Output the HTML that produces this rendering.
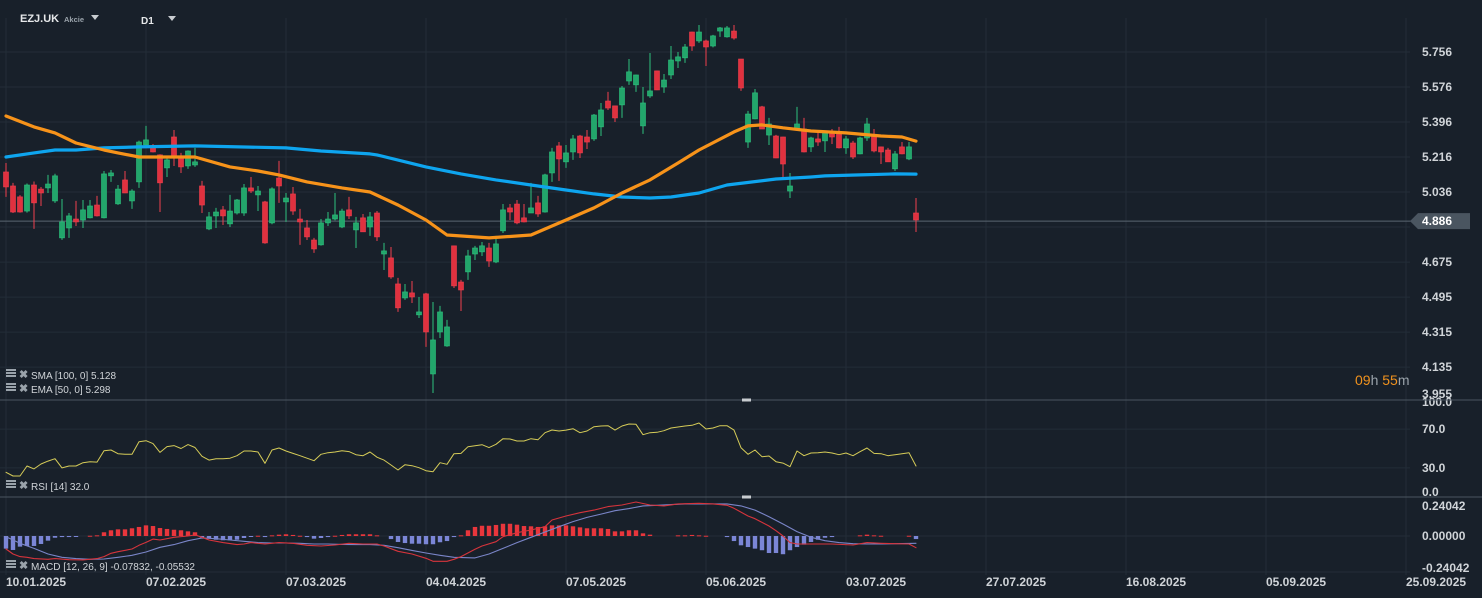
<!DOCTYPE html>
<html><head><meta charset="utf-8">
<style>
html,body{margin:0;padding:0;background:#18202a;width:1482px;height:598px;overflow:hidden}
svg{display:block;font-family:"Liberation Sans",sans-serif}
</style></head>
<body>
<svg id="chart" width="1482" height="598" xmlns="http://www.w3.org/2000/svg">
<rect x="0" y="0" width="1482" height="598" fill="#18202a"/>
<g id="grid"></g>
<g id="plot"></g>
<g id="axes"></g>
<g>
<text x="20" y="22" fill="#e6e8ea" font-size="11" font-weight="bold">EZJ.UK</text>
<text x="64" y="22" fill="#9aa3ab" font-size="7.5" font-weight="bold">Akcie</text>
<polygon points="91,15 99,15 95,20" fill="#c8ccd0"/>
<text x="141" y="24" fill="#e6e8ea" font-size="10" font-weight="bold">D1</text>
<polygon points="168,16 176,16 172,21" fill="#c8ccd0"/>
</g>
<g font-size="10" fill="#d0d4d8">
<g><rect x="6" y="369" width="10" height="2" fill="#9aa3ab"/><rect x="6" y="372" width="10" height="2" fill="#9aa3ab"/><rect x="6" y="375" width="10" height="2" fill="#9aa3ab"/><text x="19" y="378" fill="#9aa3ab" font-size="11" font-weight="bold">✖</text><text x="31" y="379">SMA [100, 0] 5.128</text></g>
<g><rect x="6" y="383" width="10" height="2" fill="#9aa3ab"/><rect x="6" y="386" width="10" height="2" fill="#9aa3ab"/><rect x="6" y="389" width="10" height="2" fill="#9aa3ab"/><text x="19" y="392" fill="#9aa3ab" font-size="11" font-weight="bold">✖</text><text x="31" y="393">EMA [50, 0] 5.298</text></g>
<g><rect x="6" y="480" width="10" height="2" fill="#9aa3ab"/><rect x="6" y="483" width="10" height="2" fill="#9aa3ab"/><rect x="6" y="486" width="10" height="2" fill="#9aa3ab"/><text x="19" y="489" fill="#9aa3ab" font-size="11" font-weight="bold">✖</text><text x="31" y="490">RSI [14] 32.0</text></g>
<g><rect x="6" y="560" width="10" height="2" fill="#9aa3ab"/><rect x="6" y="563" width="10" height="2" fill="#9aa3ab"/><rect x="6" y="566" width="10" height="2" fill="#9aa3ab"/><text x="19" y="569" fill="#9aa3ab" font-size="11" font-weight="bold">✖</text><text x="31" y="570">MACD [12, 26, 9] -0.07832, -0.05532</text></g>
</g>
<g font-size="14"><text x="1355" y="385"><tspan fill="#f0921e">09</tspan><tspan fill="#9aa3ab">h </tspan><tspan fill="#f0921e">55</tspan><tspan fill="#9aa3ab">m</tspan></text></g>
</svg>
<script>
const openP=[5.139,5.067,5.011,4.938,5.072,5.051,5.057,4.990,4.800,4.851,4.897,4.892,4.903,4.969,4.903,5.119,4.975,5.098,4.990,5.088,5.278,5.263,5.227,5.160,5.319,5.211,5.170,5.175,5.067,4.846,4.913,4.944,4.872,4.928,4.928,5.057,5.021,4.985,4.877,5.108,4.985,5.026,4.897,4.851,4.789,4.764,4.877,4.897,4.856,4.944,4.841,4.903,4.856,4.928,4.717,4.697,4.563,4.491,4.517,4.404,4.512,4.100,4.316,4.244,4.759,4.573,4.625,4.717,4.728,4.748,4.676,4.836,4.954,4.974,4.903,4.928,4.980,4.933,5.134,5.273,5.191,5.242,5.324,5.319,5.309,5.371,5.504,5.479,5.484,5.607,5.587,5.376,5.530,5.659,5.576,5.638,5.710,5.726,5.859,5.813,5.813,5.787,5.864,5.834,5.864,5.720,5.293,5.412,5.474,5.329,5.324,5.319,5.041,5.360,5.360,5.268,5.309,5.299,5.335,5.335,5.263,5.288,5.232,5.314,5.324,5.268,5.252,5.155,5.268,5.206,4.928];
const highP=[5.185,5.083,5.020,5.080,5.090,5.062,5.124,5.130,5.000,4.928,4.990,4.995,4.995,5.016,5.144,5.149,5.072,5.144,5.050,5.300,5.376,5.283,5.230,5.210,5.355,5.237,5.250,5.263,5.093,4.933,4.954,4.964,5.021,5.000,5.077,5.113,5.067,4.990,5.060,5.196,5.031,5.062,4.949,4.892,4.800,4.897,4.933,5.031,4.950,5.011,4.908,4.923,4.933,4.938,4.774,4.753,4.594,4.563,4.578,4.496,4.517,4.470,4.450,4.378,4.760,4.584,4.738,4.759,4.779,4.774,4.810,4.974,4.974,4.995,4.974,5.083,5.016,5.130,5.263,5.293,5.278,5.329,5.330,5.355,5.437,5.494,5.551,5.480,5.581,5.720,5.640,5.576,5.751,5.660,5.643,5.787,5.756,5.797,5.860,5.895,5.820,5.844,5.885,5.890,5.895,5.720,5.453,5.566,5.479,5.417,5.330,5.320,5.134,5.474,5.417,5.320,5.340,5.350,5.360,5.371,5.324,5.299,5.320,5.417,5.360,5.270,5.263,5.247,5.293,5.293,5.005];
const lowP=[5.011,4.928,4.930,4.930,4.846,4.964,5.031,4.980,4.790,4.800,4.861,4.851,4.900,4.910,4.900,5.088,4.970,5.030,4.949,5.057,5.270,5.240,4.933,5.113,5.170,5.134,5.155,5.165,4.928,4.840,4.851,4.866,4.856,4.920,4.913,5.031,4.938,4.770,4.870,4.980,4.882,4.918,4.764,4.789,4.723,4.760,4.861,4.890,4.850,4.897,4.748,4.830,4.810,4.784,4.635,4.590,4.419,4.481,4.465,4.388,4.239,4.002,4.285,4.240,4.542,4.424,4.584,4.686,4.707,4.651,4.670,4.825,4.892,4.870,4.880,4.930,4.908,4.930,5.088,5.093,5.160,5.201,5.211,5.257,5.299,5.324,5.458,5.396,5.417,5.587,5.551,5.335,5.520,5.560,5.546,5.617,5.674,5.700,5.762,5.803,5.684,5.780,5.834,5.830,5.820,5.556,5.263,5.410,5.360,5.278,5.210,5.113,5.005,5.360,5.240,5.242,5.273,5.242,5.283,5.260,5.232,5.206,5.230,5.299,5.240,5.180,5.190,5.144,5.230,5.200,4.830];
const closeP=[5.062,4.933,4.933,5.072,4.980,5.031,5.077,5.119,4.882,4.913,4.882,4.944,4.964,4.913,5.129,5.134,5.051,5.031,5.041,5.293,5.304,5.242,5.083,5.201,5.211,5.165,5.247,5.191,4.969,4.908,4.933,4.913,4.938,4.995,5.057,5.041,5.041,4.774,5.052,5.067,5.005,4.938,4.882,4.805,4.743,4.877,4.897,4.918,4.938,4.913,4.877,4.831,4.908,4.805,4.733,4.599,4.440,4.522,4.496,4.419,4.316,4.275,4.419,4.342,4.553,4.532,4.707,4.748,4.759,4.681,4.769,4.944,4.933,4.877,4.882,4.954,4.923,5.124,5.242,5.206,5.237,5.309,5.237,5.293,5.432,5.458,5.468,5.417,5.571,5.654,5.638,5.494,5.556,5.561,5.612,5.715,5.731,5.782,5.787,5.859,5.782,5.839,5.880,5.880,5.828,5.571,5.437,5.546,5.360,5.386,5.211,5.180,5.067,5.386,5.242,5.314,5.293,5.340,5.319,5.263,5.309,5.216,5.314,5.386,5.247,5.242,5.191,5.232,5.232,5.268,4.892];
const smaIdx=[0,4,7,10,14,19,27,40,45,52,53,60,65,70,75,80,84,88,92,95,99,103,110,115,117,122,127,130];
const smaVal=[5.216,5.237,5.252,5.252,5.263,5.268,5.273,5.263,5.247,5.232,5.227,5.165,5.129,5.098,5.072,5.046,5.026,5.010,5.005,5.010,5.031,5.072,5.103,5.113,5.119,5.124,5.129,5.128];
const emaIdx=[0,4,7,10,14,16,19,27,32,36,39,43,48,52,56,60,63,69,75,80,84,88,92,96,99,104,106,108,111,115,120,125,128,130];
const emaVal=[5.427,5.371,5.340,5.288,5.252,5.237,5.216,5.216,5.165,5.144,5.124,5.088,5.057,5.036,4.969,4.892,4.815,4.800,4.815,4.892,4.954,5.031,5.098,5.185,5.252,5.345,5.376,5.381,5.366,5.350,5.340,5.324,5.319,5.298];
const rsiVal=[25.5,21.6,21.6,32,29,34,37,39.5,30,32,32,35.4,36.4,36,47.7,48.5,44.6,44,44,57,58,55,46,52,53,50,54,51,42,38,39.5,39.5,40,42.6,47.4,47.4,46.4,34.7,48.5,50.5,47.4,45,42.6,40,37.4,44,45.7,46.4,47.7,46.8,43.6,42.6,46.4,41,38,33,27.8,33.3,32.3,30.2,27.1,26.1,35.4,33.7,44.6,45,51.9,52.9,53.9,50.9,54.3,60.1,59.8,57.7,57.7,60.1,59.1,66.3,69.1,68,69,70.4,66.3,68,72.5,73.2,73.5,69,73.2,75.3,75,64.2,66.3,66.7,68.4,71.1,72.2,73.2,73.9,76.3,70.1,71.1,73.5,73.5,69,50.8,44,48.5,41.5,42.3,36.4,35,31.2,47.4,42.6,45.4,45.7,46.4,45.4,43.6,45.4,42.6,46.7,50.5,45,44.6,42.6,43.6,44.6,45.7,32];
const macdIdx=[0,1,2,3,4,6,7,9,11,13,14,15,16,18,19,20,21,22,24,26,27,28,29,31,33,34,35,37,39,41,43,45,47,49,51,53,54,56,58,60,61,63,64,65,67,68,70,71,73,75,77,78,80,82,84,86,88,90,92,94,96,99,101,103,104,106,107,109,110,111,112,113,115,118,121,123,125,127,129,130];
const macdVal=[-0.098,-0.135,-0.155,-0.160,-0.170,-0.175,-0.170,-0.178,-0.180,-0.170,-0.155,-0.130,-0.118,-0.098,-0.070,-0.048,-0.023,-0.030,-0.010,0,0.008,-0.010,-0.030,-0.050,-0.065,-0.060,-0.050,-0.060,-0.050,-0.055,-0.070,-0.075,-0.068,-0.055,-0.060,-0.060,-0.075,-0.115,-0.135,-0.168,-0.190,-0.190,-0.175,-0.155,-0.100,-0.075,-0.043,-0.005,0.025,0.045,0.070,0.120,0.150,0.175,0.195,0.221,0.233,0.256,0.233,0.226,0.241,0.246,0.241,0.231,0.208,0.150,0.130,0.075,0.040,0,-0.050,-0.060,-0.060,-0.060,-0.068,-0.050,-0.055,-0.058,-0.060,-0.088];
const sigIdx=[0,2,4,6,8,10,12,14,16,18,20,22,24,26,28,30,32,34,36,38,40,42,44,46,48,50,52,54,56,58,60,62,64,67,69,71,73,75,77,79,81,83,85,87,89,91,93,95,97,99,101,103,105,107,109,111,113,115,117,119,121,123,125,130];
const sigVal=[-0.005,-0.055,-0.093,-0.135,-0.160,-0.170,-0.175,-0.173,-0.160,-0.145,-0.120,-0.085,-0.065,-0.035,-0.015,-0.020,-0.030,-0.040,-0.050,-0.053,-0.053,-0.055,-0.060,-0.060,-0.063,-0.065,-0.065,-0.070,-0.088,-0.108,-0.128,-0.145,-0.160,-0.165,-0.135,-0.093,-0.050,-0.010,0.030,0.070,0.108,0.140,0.165,0.190,0.206,0.226,0.231,0.236,0.241,0.241,0.241,0.241,0.226,0.195,0.145,0.090,0.033,-0.010,-0.035,-0.050,-0.058,-0.060,-0.060,-0.055];
const histVal=[-0.095,-0.105,-0.080,-0.075,-0.075,-0.060,-0.035,-0.013,-0.008,-0.008,-0.005,0,0.002,0.005,0.028,0.043,0.050,0.050,0.058,0.068,0.080,0.075,0.060,0.053,0.047,0.043,0.035,0.028,-0.013,-0.017,-0.028,-0.032,-0.032,-0.028,-0.015,-0.002,0.002,-0.008,0.005,0.010,0.013,0.008,0.002,-0.008,-0.020,-0.015,-0.008,0.002,0.008,0.013,0.013,0.013,0.013,0.005,0,-0.023,-0.045,-0.053,-0.058,-0.058,-0.062,-0.062,-0.047,-0.038,-0.008,0.005,0.043,0.068,0.077,0.077,0.083,0.092,0.092,0.085,0.075,0.073,0.068,0.073,0.080,0.080,0.080,0.073,0.065,0.058,0.058,0.058,0.053,0.035,0.035,0.043,0.043,0.020,0.010,0,0,0,0.005,0.005,0.008,0.005,0.002,0,0,-0.008,-0.038,-0.070,-0.083,-0.095,-0.107,-0.128,-0.128,-0.137,-0.107,-0.083,-0.065,-0.045,-0.028,-0.013,-0.008,0,0,0,0.005,0.010,0.005,0.002,0,0,0,0.002,-0.023];
const priceTicks=[5.756,5.576,5.396,5.216,5.036,4.856,4.675,4.495,4.315,4.135,3.955];
const rsiTicks=[100,70,30,0];
const macdTicks=[0.24042,0,-0.24042];
const dateLabels=["10.01.2025","07.02.2025","07.03.2025","04.04.2025","07.05.2025","05.06.2025","03.07.2025","27.07.2025","16.08.2025","05.09.2025","25.09.2025"];
const dateIdx=[0,20,40,60,80,100,120,140,160,180,200];
const lastPrice=4.886;

const NS="http://www.w3.org/2000/svg";
const xOf=i=>6+7*i;
const yP=p=>157-(p-5.216)*194.4;
const yR=v=>497-v*0.97;
const yM=v=>536-v*133;
function mk(tag,attrs,parent){const e=document.createElementNS(NS,tag);for(const k in attrs)e.setAttribute(k,attrs[k]);parent.appendChild(e);return e;}
const grid=document.getElementById('grid'),plot=document.getElementById('plot'),axes=document.getElementById('axes');

dateIdx.forEach((d,k)=>{
  const x=xOf(d);
  const l=mk('line',{x1:x,x2:x,y1:18,y2:575,stroke:'#232d38','stroke-width':1},grid);
  
  
  const t=mk('text',{x:x,y:586,fill:'#d0d4d8','font-size':12,'font-weight':'bold'},axes);
  t.textContent=dateLabels[k];
  
  
});
priceTicks.forEach(p=>{
  const y=yP(p);
  if(y<398){
    const l=mk('line',{x1:0,x2:1410,y1:y,y2:y,stroke:'#232d38','stroke-width':1},grid);
    
    
  }
  if(y>30 && Math.abs(y-yP(lastPrice))>10){
    const t=mk('text',{x:1422,y:Math.min(y,394)+4,fill:'#d0d4d8','font-size':12,'font-weight':'bold'},axes);
    t.textContent=p.toFixed(3);
    
    
  }
});
rsiTicks.forEach(v=>{
  const y=yR(v);
  if(v>0&&v<100){const l=mk('line',{x1:0,x2:1410,y1:y,y2:y,stroke:'#232d38'},grid);
  
  }
  const t=mk('text',{x:1422,y:Math.max(406,Math.min(y+4,496)),fill:'#d0d4d8','font-size':12,'font-weight':'bold'},axes);
  t.textContent=v.toFixed(1);
  
  
});
macdTicks.forEach(v=>{
  const y=yM(v);
  if(v<=0){const l=mk('line',{x1:0,x2:1410,y1:v<0?572:y,y2:v<0?572:y,stroke:'#232d38'},grid);
  
  }
  const t=mk('text',{x:1422,y:Math.max(510,Math.min(y+4,575)),fill:'#d0d4d8','font-size':12,'font-weight':'bold'},axes);
  t.textContent=v.toFixed(5);
  
  
});
[400,497].forEach(y=>{
  const l=mk('line',{x1:0,x2:1482,y1:y,y2:y,stroke:'#4a5560','stroke-width':1},axes);
  
  
  const h=mk('rect',{x:742,y:y-1.5,width:9,height:3,fill:'#c8ccd0'},axes);
  
  
});
const ly=yP(lastPrice);
const pl=mk('line',{x1:0,x2:1412,y1:ly,y2:ly,stroke:'#5a6570','stroke-width':1},plot);


const pb=mk('polygon',{points:`1410,${ly} 1418,${ly-8} 1470,${ly-8} 1470,${ly+8} 1418,${ly+8}`,fill:'#4a5560'},axes);


const pt=mk('text',{x:1422,y:ly+4,fill:'#ffffff','font-size':12,'font-weight':'bold'},axes);
pt.textContent=lastPrice.toFixed(3);



for(let i=0;i<openP.length;i++){
  const up=closeP[i]>=openP[i];
  const col=up?'#22a66b':'#e0313f', bcol=up?'#2ec27e':'#f0404e';
  const x=xOf(i);
  const g=mk('g',{},plot);
  
  
  mk('line',{x1:x,x2:x,y1:yP(highP[i]),y2:yP(lowP[i]),stroke:bcol,'stroke-width':1},g);
  const t=Math.min(yP(openP[i]),yP(closeP[i])),b=Math.max(yP(openP[i]),yP(closeP[i]));
  mk('rect',{x:x-2.5,y:t,width:5,height:Math.max(1.5,b-t),fill:col,stroke:bcol,'stroke-width':0.6},g);
}
function poly(idx,vals,yf,color,w,name){
  const pts=idx.map((n,k)=>xOf(n)+','+yf(vals[k]).toFixed(1)).join(' ');
  const e=mk('polyline',{points:pts,fill:'none',stroke:color,'stroke-width':w,'stroke-linejoin':'round','stroke-linecap':'round'},plot);
  
  
}
poly(smaIdx,smaVal,yP,'#0ea5ef',3.2,'sma-100-line');
poly(emaIdx,emaVal,yP,'#f7931a',3.2,'ema-50-line');
poly(rsiVal.map((v,i)=>i),rsiVal,yR,'#d6cc58',1,'rsi-line');
histVal.forEach((v,i)=>{
  if(v===0)return;
  const y0=yM(0),y1=yM(v);
  const r=mk('rect',{x:xOf(i)-2.2,y:Math.min(y0,y1),width:4.4,height:Math.max(1,Math.abs(y1-y0)),fill:v>0?'#e8363c':'#7b86d6'},plot);
  
  
});
poly(sigIdx,sigVal,yM,'#7a85c8',1.1,'macd-signal-line');
poly(macdIdx,macdVal,yM,'#d6343c',1.1,'macd-line');
</script>
</body></html>
